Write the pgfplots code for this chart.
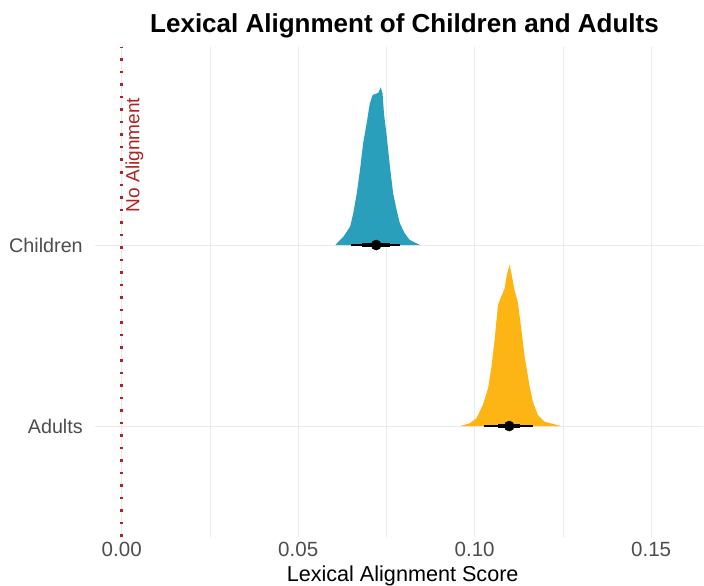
\documentclass[border=0pt]{standalone}
\usepackage{fontspec}
\setmainfont{Liberation Sans}
\usepackage{pgfplots}
\pgfplotsset{compat=1.18}
\definecolor{firebrick}{HTML}{B22222}
\definecolor{kid}{HTML}{2A9FBC}
\definecolor{adult}{HTML}{FDB515}
\definecolor{gridc}{HTML}{EBEBEB}
\definecolor{tickc}{HTML}{4D4D4D}
\begin{document}
\begin{tikzpicture}
\begin{axis}[
 name=ax,
 x=2646.75pt, y=135.75pt,
 xmin=-0.00757, xmax=0.1647, ymin=0.387, ymax=3.094,
 axis line style={draw=none},
 tick style={draw=none},
 xtick={0,0.05,0.1,0.15},
 xticklabels={0.00,0.05,0.10,0.15},
 minor xtick={0.025,0.075,0.125},
 ytick={1,2}, yticklabels={Adults,Children},
 xmajorgrids, xminorgrids, ymajorgrids,
 major grid style={gridc, line width=0.8pt},
 minor grid style={gridc, line width=0.4pt},
 xticklabel style={font=\fontsize{15.4}{18}\selectfont, text=tickc, anchor=base, inner sep=0pt, yshift=-14.75pt},
 yticklabel style={font=\fontsize{14.8}{18}\selectfont, text=tickc, anchor=east, inner sep=0pt, xshift=-9pt},
 clip=false,
]
% dotted reference line
\addplot[firebrick, line width=1.9pt, dash pattern=on 1.9pt off 7.5pt] coordinates {(0,0.387) (0,3.094)};
% Children slab
\addplot[fill=kid, draw=none] coordinates {
(0.0605,2) (0.0628,2.046) (0.0647,2.101) (0.0656,2.175) (0.0666,2.286)
(0.0675,2.414) (0.0684,2.562) (0.0694,2.673) (0.0703,2.783) (0.0711,2.829)
(0.0718,2.834) (0.0727,2.841) (0.0734,2.871) (0.0739,2.838) (0.0743,2.728)
(0.0751,2.598) (0.0760,2.433) (0.0769,2.286) (0.0779,2.193) (0.0788,2.120)
(0.0802,2.064) (0.0816,2.028) (0.0845,2)
} -- cycle;
% Adults slab
\addplot[fill=adult, draw=none] coordinates {
(0.0958,1) (0.0986,1.015) (0.1005,1.042) (0.1023,1.116) (0.1038,1.208)
(0.1047,1.319) (0.1056,1.466) (0.1066,1.669) (0.1075,1.714) (0.1085,1.761)
(0.1091,1.834) (0.1099,1.893) (0.1105,1.834) (0.1113,1.751) (0.1122,1.687)
(0.1132,1.540) (0.1141,1.392) (0.1155,1.227) (0.1165,1.134) (0.1179,1.061)
(0.1198,1.024) (0.1245,1)
} -- cycle;
% intervals
\addplot[black, line width=1.3pt] coordinates {(0.0649,2) (0.0789,2)};
\addplot[black, line width=3pt] coordinates {(0.0680,2) (0.0760,2)};
\addplot[only marks, mark=*, mark size=3.75pt, black] coordinates {(0.0721,2)};
\addplot[black, line width=1.3pt] coordinates {(0.1027,1) (0.1166,1)};
\addplot[black, line width=3pt] coordinates {(0.1067,1) (0.1129,1)};
\addplot[only marks, mark=*, mark size=3.75pt, black] coordinates {(0.1098,1)};
% text
\node[rotate=90, anchor=base, text=firebrick, font=\fontsize{14.3}{17}\selectfont] at (axis cs:0.005,2.497) {No Alignment};
\node[anchor=base, font=\bfseries\fontsize{19.5}{22}\selectfont, yshift=11.25pt] at (rel axis cs:0.509,1) {Lexical Alignment of Children and Adults};
\node[anchor=base, font=\fontsize{16.2}{19}\selectfont, yshift=-33pt] at (rel axis cs:0.506,0) {Lexical Alignment Score};
\end{axis}
\pgfresetboundingbox
\path[use as bounding box] ([xshift=-71.25pt,yshift=-36pt]ax.south west) rectangle ([xshift=0.75pt,yshift=35.25pt]ax.north east);
\end{tikzpicture}
\end{document}
